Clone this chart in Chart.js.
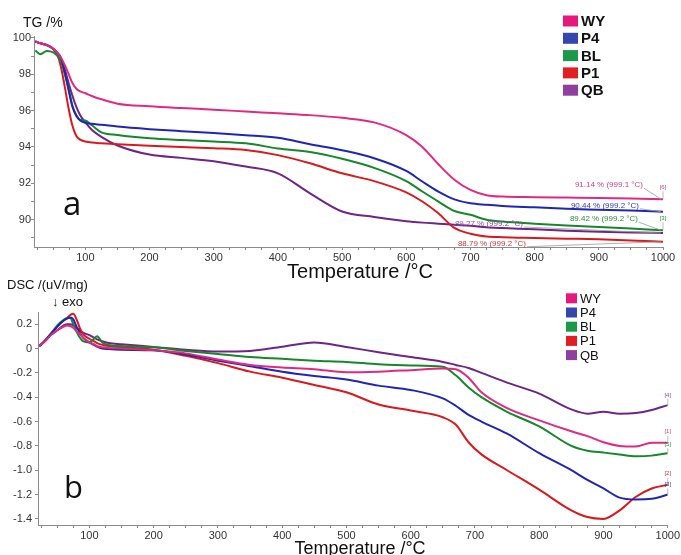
<!DOCTYPE html>
<html>
<head>
<meta charset="utf-8">
<script src="https://cdn.jsdelivr.net/npm/chart.js@4.4.1/dist/chart.umd.min.js"></script>
<style>
    html, body { margin: 0; padding: 0; background: #fff; }
    #wrap { position: relative; width: 681px; height: 555px; overflow: hidden; background: #fff; }
    canvas { position: absolute; left: 0; }
    #tg { top: 0; }
    #dsc { top: 258px; }
</style>
</head>
<body>
<div id="wrap">
    <canvas id="tg" width="681" height="285"></canvas>
    <canvas id="dsc" width="681" height="297"></canvas>
</div>
<script>
// === Data ===
const SERIES = ['WY', 'P4', 'BL', 'P1', 'QB'];

// TG (%) vs temperature (°C)
const tgTemps = [22, 30, 40, 50, 56, 62, 68, 74, 80, 86, 92, 100, 110, 125, 150, 200, 250, 300, 350, 400,
    450, 500, 550, 600, 625, 650, 675, 700, 725, 750, 800, 850, 900, 950, 1000];
const tgWY = [99.8, 99.7, 99.6, 99.4, 99.2, 98.9, 98.5, 98.0, 97.5, 97.2, 97.05, 96.95, 96.8, 96.62, 96.38, 96.24, 96.14, 96.05, 95.95, 95.85,
    95.75, 95.6, 95.35, 94.65, 94.0, 93.05, 92.2, 91.64, 91.35, 91.27, 91.24, 91.22, 91.2, 91.17, 91.13];
const tgP4 = [99.8, 99.7, 99.6, 99.4, 99.2, 98.9, 98.1, 97.1, 96.2, 95.7, 95.45, 95.33, 95.27, 95.22, 95.12, 94.98, 94.87, 94.77, 94.65, 94.5,
    94.15, 93.82, 93.38, 92.68, 92.1, 91.55, 91.12, 90.9, 90.82, 90.76, 90.68, 90.6, 90.55, 90.5, 90.44];
const tgBL = [99.3, 99.1, 99.28, 99.2, 99.02, 98.7, 98.0, 97.2, 96.25, 95.75, 95.5, 95.45, 95.2, 94.8, 94.66, 94.48, 94.38, 94.3, 94.2, 93.92,
    93.72, 93.35, 92.85, 92.12, 91.55, 91.0, 90.48, 90.27, 90.0, 89.9, 89.78, 89.68, 89.6, 89.52, 89.42];
const tgP1 = [99.8, 99.7, 99.6, 99.4, 99.1, 98.4, 97.3, 96.1, 95.15, 94.6, 94.4, 94.3, 94.24, 94.2, 94.15, 94.06, 94.0, 93.93, 93.83, 93.55,
    93.1, 92.55, 92.12, 91.5, 91.0, 90.35, 89.55, 89.23, 89.08, 89.04, 89.0, 88.96, 88.92, 88.86, 88.79];
const tgQB = [99.8, 99.7, 99.6, 99.38, 99.1, 98.75, 98.25, 97.5, 96.8, 96.2, 95.74, 95.35, 94.95, 94.55, 94.08, 93.58, 93.4, 93.22, 92.92, 92.55,
    91.45, 90.45, 90.15, 89.92, 89.84, 89.78, 89.72, 89.67, 89.58, 89.54, 89.48, 89.4, 89.34, 89.3, 89.27];
const tgEndLabels = ['91.14 % (999.1 °C)', '90.44 % (999.2 °C)', '89.42 % (999.2 °C)', '88.79 % (999.2 °C)', '89.27 % (999.2 °C)'];

// DSC (uV/mg) vs temperature (°C)
const dscTemps = [22, 30, 40, 50, 60, 65, 70, 75, 80, 85, 90, 100, 107, 112, 120, 130, 150, 200, 250, 300,
    350, 400, 450, 500, 550, 600, 650, 670, 690, 710, 750, 800, 850, 875, 900, 925, 950, 975, 1000];
const dscWY = [0.02, 0.055, 0.11, 0.15, 0.18, 0.19, 0.185, 0.17, 0.14, 0.12, 0.09, 0.05, 0.035, 0.02, 0.01, 0.005, 0.0, -0.015, -0.04, -0.09,
    -0.135, -0.155, -0.17, -0.195, -0.19, -0.178, -0.165, -0.17, -0.24, -0.36, -0.49, -0.59, -0.68, -0.72, -0.77, -0.80, -0.805, -0.775, -0.775];
const dscP4 = [0.02, 0.06, 0.12, 0.18, 0.23, 0.245, 0.255, 0.24, 0.18, 0.13, 0.09, 0.05, 0.03, 0.015, 0.0, -0.005, -0.01, -0.015, -0.05, -0.1,
    -0.145, -0.19, -0.225, -0.255, -0.305, -0.34, -0.41, -0.47, -0.545, -0.6, -0.7, -0.86, -1.0, -1.08, -1.15, -1.225, -1.24, -1.235, -1.2];
const dscBL = [0.02, 0.06, 0.12, 0.19, 0.235, 0.25, 0.25, 0.2, 0.14, 0.09, 0.06, 0.05, 0.08, 0.1, 0.05, 0.03, 0.02, 0.01, -0.02, -0.045,
    -0.07, -0.085, -0.1, -0.11, -0.13, -0.14, -0.15, -0.22, -0.32, -0.4, -0.52, -0.64, -0.8, -0.84, -0.855, -0.87, -0.885, -0.88, -0.86];
const dscP1 = [0.02, 0.06, 0.12, 0.18, 0.23, 0.25, 0.275, 0.285, 0.24, 0.17, 0.12, 0.08, 0.06, 0.045, 0.03, 0.02, 0.01, -0.01, -0.06, -0.12,
    -0.19, -0.24, -0.3, -0.36, -0.46, -0.51, -0.565, -0.625, -0.77, -0.87, -1.0, -1.16, -1.33, -1.385, -1.4, -1.33, -1.22, -1.15, -1.12];
const dscQB = [0.02, 0.055, 0.11, 0.15, 0.19, 0.2, 0.2, 0.19, 0.17, 0.15, 0.13, 0.11, 0.09, 0.075, 0.06, 0.045, 0.035, 0.013, -0.01, -0.025,
    -0.02, 0.015, 0.05, 0.012, -0.03, -0.07, -0.11, -0.135, -0.16, -0.2, -0.28, -0.37, -0.5, -0.535, -0.52, -0.535, -0.53, -0.505, -0.465];
const dscMarks = ['[1]', '[3]', '[5]', '[2]', '[4]'];

// === Styling ===
const LINE_COLORS = ['#e02a82', '#1f26b4', '#16872a', '#d81a1e', '#6f2585'];
const KEY_COLORS = ['#e6187e', '#3446b0', '#1a9a48', '#e01e24', '#8e3f9f'];
const NOTE_COLORS = ['#cc3f8c', '#2f3ea6', '#2f8a3c', '#c0383a', '#8a4ba2'];
const FONT = '"Liberation Sans", Arial, sans-serif';
const AXIS_GREY = '#8a8a8a';

function buildDatasets(temps, arrays) {
    return arrays.map((vals, i) => ({
        label: SERIES[i],
        data: temps.map((t, k) => ({ x: t, y: vals[k] })),
        borderColor: LINE_COLORS[i],
        borderWidth: 2,
        pointRadius: 0,
        cubicInterpolationMode: 'monotone',
        fill: false,
    }));
}

function xScale(height) {
    return {
        type: 'linear', min: 20, max: 1000,
        border: { display: true, color: AXIS_GREY, width: 1 },
        grid: { drawOnChartArea: false, drawTicks: true, tickLength: 3, color: AXIS_GREY },
        ticks: {
            stepSize: 25, includeBounds: false, autoSkip: false, maxRotation: 0, padding: 1,
            color: '#333', font: { family: FONT, size: 11 },
            callback: v => (v % 100 === 0 ? String(v) : ''),
        },
        afterFit: s => { s.height = height; },
    };
}

// text, legend and end-point notes drawn on top of each chart
const decorations = {
    id: 'decorations',
    afterDraw(chart, args, o) {
        const ctx = chart.ctx;
        const xs = chart.scales.x, ys = chart.scales.y;
        ctx.save();
        ctx.textBaseline = 'alphabetic';
        ctx.textAlign = 'left';
        ctx.fillStyle = '#111';

        // y title
        ctx.font = o.yTitle.size + 'px ' + FONT;
        ctx.fillText(o.yTitle.text, o.yTitle.x, o.yTitle.y);
        if (o.exo) {
            ctx.font = '13px ' + FONT;
            ctx.fillText('↓ exo', o.exo.x, o.exo.y);
        }

        // x title
        ctx.textAlign = 'center';
        ctx.font = o.xTitle.size + 'px ' + FONT;
        ctx.fillText('Temperature /°C', o.xTitle.x, o.xTitle.y);

        // panel letter
        ctx.textAlign = 'left';
        ctx.font = o.letter.size + 'px "Open Sans", sans-serif';
        ctx.fillText(o.letter.text, o.letter.x, o.letter.y);

        // legend
        const lg = o.legend;
        ctx.textBaseline = 'middle';
        ctx.font = (lg.bold ? 'bold ' : '') + lg.size + 'px ' + FONT;
        SERIES.forEach((name, i) => {
            const cy = lg.y + i * lg.gap;
            ctx.fillStyle = KEY_COLORS[i];
            ctx.fillRect(lg.x, cy - lg.bh / 2, lg.bw, lg.bh);
            ctx.fillStyle = '#111';
            ctx.fillText(name, lg.x + lg.bw + 3, cy + 1);
        });

        // end-point notes
        if (o.notes) {
            ctx.font = '8px ' + FONT;
            o.notes.forEach(n => {
                const ds = chart.data.datasets[n.i].data;
                const end = ds[ds.length - 1];
                const px = xs.getPixelForValue(end.x), py = ys.getPixelForValue(end.y);
                const tx = px + n.dx, ty = py + n.dy;
                ctx.fillStyle = NOTE_COLORS[n.i];
                ctx.textAlign = 'right';
                ctx.fillText(n.text, tx, ty);
                ctx.strokeStyle = '#9a9a9a';
                ctx.lineWidth = 0.8;
                ctx.beginPath();
                ctx.moveTo(tx + 1, ty + 3);
                ctx.lineTo(px - 2, py);
                ctx.stroke();
            });
        }
        if (o.marks) {
            ctx.font = '6px ' + FONT;
            ctx.textAlign = 'center';
            o.marks.forEach(m => {
                const ds = chart.data.datasets[m.i].data;
                const end = ds[ds.length - 1];
                const px = xs.getPixelForValue(end.x), py = ys.getPixelForValue(end.y);
                ctx.fillStyle = NOTE_COLORS[m.i];
                ctx.fillText(m.text, px, py + m.dy);
                ctx.strokeStyle = '#a0a0a0';
                ctx.lineWidth = 0.7;
                ctx.beginPath();
                ctx.moveTo(px, py + m.dy + 4);
                ctx.lineTo(px, py);
                ctx.stroke();
            });
        }
        ctx.restore();
    }
};

// === TG chart ===
new Chart(document.getElementById('tg'), {
    type: 'line',
    data: { datasets: buildDatasets(tgTemps, [tgWY, tgP4, tgBL, tgP1, tgQB]) },
    options: {
        responsive: false, animation: false, devicePixelRatio: 1,
        layout: { padding: { top: 36, right: 18, left: 0, bottom: 0 } },
        plugins: {
            legend: { display: false }, tooltip: { enabled: false },
            decorations: {
                yTitle: { text: 'TG /%', size: 14, x: 23, y: 27 },
                xTitle: { size: 20, x: 360, y: 278 },
                letter: { text: 'a', size: 33, x: 63, y: 215 },
                legend: { x: 563, y: 21, gap: 17.3, bw: 15, bh: 11, size: 15, bold: true },
                notes: [
                    { i: 0, text: tgEndLabels[0], dx: -20, dy: -14 },
                    { i: 1, text: tgEndLabels[1], dx: -24, dy: -6 },
                    { i: 2, text: tgEndLabels[2], dx: -25, dy: -11 },
                    { i: 4, text: tgEndLabels[4], dx: -140, dy: -9 },
                    { i: 3, text: tgEndLabels[3], dx: -137, dy: 2 },
                ],
                marks: [
                    { i: 0, text: '[6]', dy: -12 },
                    { i: 2, text: '[3]', dy: -12 },
                ],
            },
        },
        scales: {
            x: xScale(38),
            y: {
                min: 88.5, max: 100.1,
                border: { display: true, color: AXIS_GREY, width: 1 },
                grid: { drawOnChartArea: false, drawTicks: true, tickLength: 3, color: AXIS_GREY },
                ticks: {
                    stepSize: 1, includeBounds: false, padding: 0,
                    color: '#333', font: { family: FONT, size: 11 },
                    callback: v => (Math.round(v) % 2 === 0 ? String(Math.round(v)) : ''),
                },
                afterFit: s => { s.width = 34; },
            },
        },
    },
    plugins: [decorations],
});

// === DSC chart ===
new Chart(document.getElementById('dsc'), {
    type: 'line',
    data: { datasets: buildDatasets(dscTemps, [dscWY, dscP4, dscBL, dscP1, dscQB]) },
    options: {
        responsive: false, animation: false, devicePixelRatio: 1,
        layout: { padding: { top: 54, right: 11, left: 0, bottom: 0 } },
        plugins: {
            legend: { display: false }, tooltip: { enabled: false },
            decorations: {
                yTitle: { text: 'DSC /(uV/mg)', size: 13, x: 7, y: 31 },
                exo: { x: 52, y: 48 },
                xTitle: { size: 18, x: 360, y: 296 },
                letter: { text: 'b', size: 31, x: 64, y: 240 },
                legend: { x: 566, y: 40.3, gap: 14.2, bw: 11, bh: 10, size: 13, bold: false },
                marks: [
                    { i: 4, text: dscMarks[4], dy: -10 },
                    { i: 0, text: dscMarks[0], dy: -11 },
                    { i: 2, text: dscMarks[2], dy: -9 },
                    { i: 3, text: dscMarks[3], dy: -11 },
                    { i: 1, text: dscMarks[1], dy: -10 },
                ],
            },
        },
        scales: {
            x: xScale(30),
            y: {
                min: -1.45, max: 0.3,
                border: { display: true, color: AXIS_GREY, width: 1 },
                grid: { drawOnChartArea: false, drawTicks: true, tickLength: 3, color: AXIS_GREY },
                ticks: {
                    stepSize: 0.1, includeBounds: false, padding: 3,
                    color: '#333', font: { family: FONT, size: 11 },
                    callback: v => {
                        const k = Math.round(v * 10);
                        if (k % 2 !== 0) return '';
                        return k === 0 ? '0' : (k / 10).toFixed(1);
                    },
                },
                afterFit: s => { s.width = 38; },
            },
        },
    },
    plugins: [decorations],
});
</script>
</body>
</html>
